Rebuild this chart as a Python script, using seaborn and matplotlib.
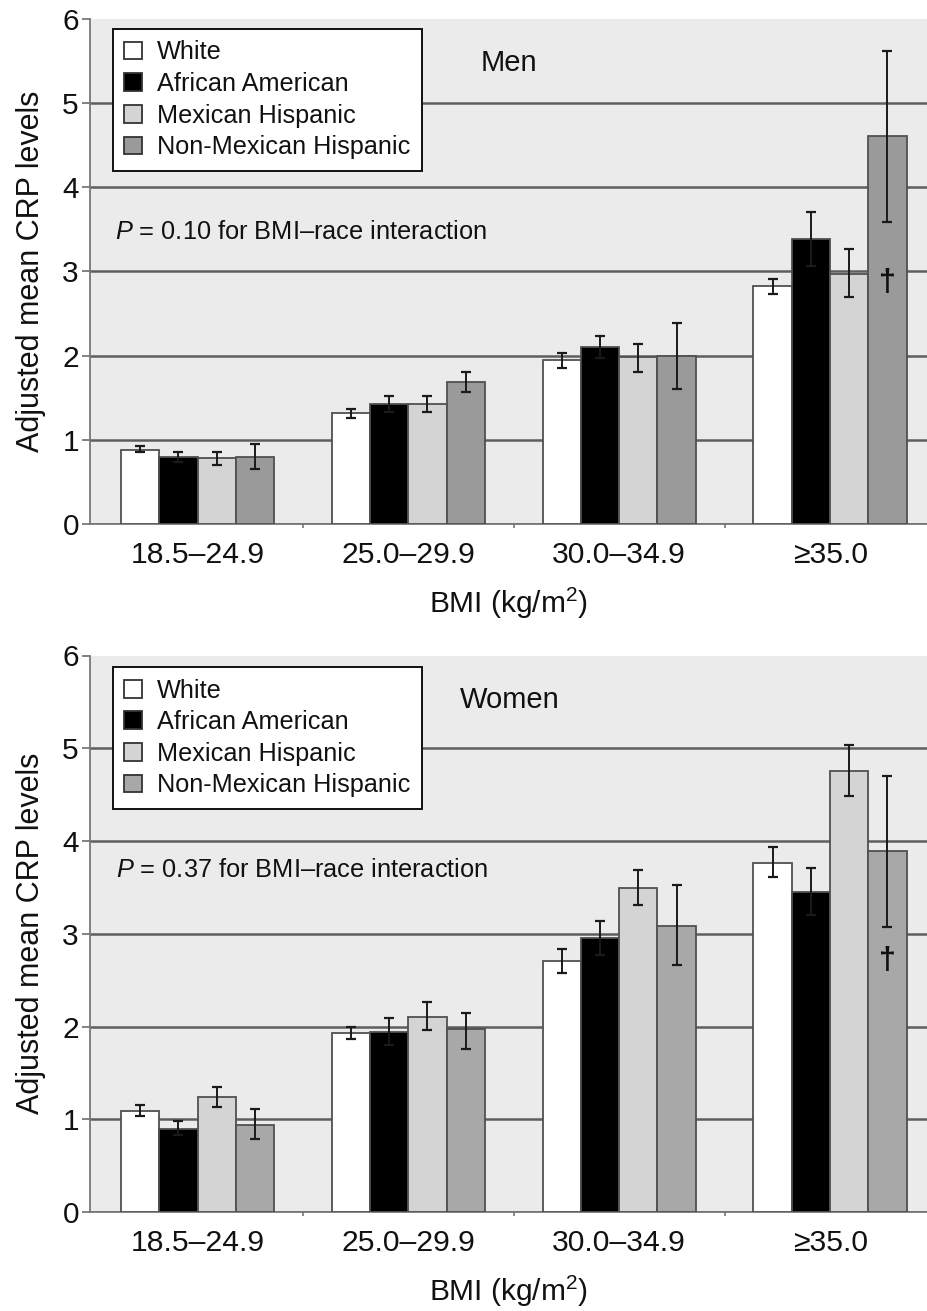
import numpy as np
import pandas as pd
import matplotlib
matplotlib.use("Agg")
import matplotlib.pyplot as plt
import seaborn as sns

# ---------------- data ----------------
bmi_cats = ["18.5\u201324.9", "25.0\u201329.9", "30.0\u201334.9", "\u226535.0"]
races = ["White", "African American", "Mexican Hispanic", "Non-Mexican Hispanic"]

# Men: means, lower and upper error-bar ends (per race, per BMI category)
men_mean = [[0.88, 1.32, 1.95, 2.82],
            [0.79, 1.42, 2.10, 3.38],
            [0.78, 1.42, 1.98, 2.97],
            [0.79, 1.68, 2.00, 4.60]]
men_lo = [[0.85, 1.26, 1.85, 2.73],
          [0.74, 1.33, 1.97, 3.06],
          [0.70, 1.33, 1.81, 2.70],
          [0.65, 1.57, 1.60, 3.59]]
men_hi = [[0.93, 1.36, 2.03, 2.91],
          [0.85, 1.52, 2.23, 3.70],
          [0.85, 1.52, 2.14, 3.26],
          [0.95, 1.80, 2.38, 5.61]]

# Women
women_mean = [[1.09, 1.93, 2.71, 3.76],
              [0.90, 1.94, 2.95, 3.45],
              [1.24, 2.10, 3.49, 4.76],
              [0.94, 1.97, 3.08, 3.89]]
women_lo = [[1.03, 1.86, 2.58, 3.61],
            [0.83, 1.80, 2.77, 3.20],
            [1.13, 1.96, 3.31, 4.49],
            [0.79, 1.76, 2.66, 3.07]]
women_hi = [[1.15, 1.99, 2.84, 3.93],
            [0.98, 2.09, 3.14, 3.71],
            [1.35, 2.26, 3.69, 5.04],
            [1.11, 2.15, 3.53, 4.70]]

men_p_text = "= 0.10 for BMI\u2013race interaction"
women_p_text = "= 0.37 for BMI\u2013race interaction"
y_ticks = [0, 1, 2, 3, 4, 5, 6]

# ---------------- style ----------------
sns.set_style("white")
plt.rcParams["font.family"] = ["Liberation Sans", "DejaVu Sans"]
plt.rcParams["mathtext.fontset"] = "custom"
plt.rcParams["mathtext.it"] = "Liberation Sans:italic"
plt.rcParams["mathtext.rm"] = "Liberation Sans"

fig = plt.figure(figsize=(9.27, 13.11), dpi=100)

W, H = 927, 1311
def axes_rect(left_px, top_px, right_px, bottom_px):
    return [left_px / W, 1 - bottom_px / H, (right_px - left_px) / W, (bottom_px - top_px) / H]

ax_top = fig.add_axes(axes_rect(90, 18.5, 927, 524))
ax_bot = fig.add_axes(axes_rect(90, 655.5, 927, 1212))

pal_men = ["#ffffff", "#000000", "#d4d4d4", "#9a9a9a"]
pal_women = ["#ffffff", "#000000", "#d4d4d4", "#a8a8a8"]


def make_df(mean):
    rows = []
    for r, race in enumerate(races):
        for c, cat in enumerate(bmi_cats):
            rows.append({"bmi": cat, "race": race, "value": mean[r][c]})
    return pd.DataFrame(rows)


def draw(ax, mean, lo, hi, palette, title, title_xy, p_text, p_xy, dagger_y):
    df = make_df(mean)
    ax.set_facecolor("#ebebeb")
    sns.barplot(data=df, x="bmi", y="value", hue="race", order=bmi_cats,
                hue_order=races, palette=palette, width=0.726,
                edgecolor="#505050", linewidth=1.3, errorbar=None,
                saturation=1, ax=ax, zorder=3)
    bar_conts = list(ax.containers)
    # error bars
    for r, cont in enumerate(bar_conts):
        xs = [p.get_x() + p.get_width() / 2 for p in cont.patches]
        m = np.array(mean[r])
        yerr = np.vstack([m - np.array(lo[r]), np.array(hi[r]) - m])
        ax.errorbar(xs, m, yerr=yerr, fmt="none", ecolor="#1a1a1a",
                    elinewidth=1.4, capsize=3.8, capthick=1.6, zorder=5)
    # dagger on Non-Mexican Hispanic, highest BMI category
    p = bar_conts[3].patches[3]
    ax.text(p.get_x() + p.get_width() / 2, dagger_y, "\u2020", ha="center",
            va="center", fontsize=22, fontweight="bold", color="#111111",
            zorder=6)

    ax.set_xlim(-0.51, 3.46)
    ax.set_ylim(0, 6)
    ax.set_yticks(y_ticks)
    ax.set_axisbelow(True)
    ax.yaxis.grid(True, color="#5e5e5e", linewidth=1.8)
    ax.get_ygridlines()[-1].set_visible(False)
    ax.xaxis.grid(False)

    for s in ["top", "right"]:
        ax.spines[s].set_visible(False)
    for s in ["left", "bottom"]:
        ax.spines[s].set_color("#777777")
        ax.spines[s].set_linewidth(1.3)

    ax.tick_params(axis="y", which="major", direction="out", length=6,
                   width=1.3, color="#777777", pad=2, labelsize=21.5,
                   labelcolor="#111111", left=True)
    ax.tick_params(axis="x", which="major", length=0, pad=12, labelsize=21.7,
                   labelcolor="#111111")
    ax.set_xticks([0.5, 1.5, 2.5], minor=True)
    ax.tick_params(axis="x", which="minor", direction="out", length=3,
                   width=1.2, color="#777777", bottom=True)

    ax.set_ylabel("Adjusted mean CRP levels", fontsize=22, color="#111111",
                  labelpad=12)
    ax.set_xlabel("BMI (kg/m$^{\\mathrm{2}}$)", fontsize=21.5, color="#111111",
                  labelpad=12)

    handles, labels = ax.get_legend_handles_labels()
    for h in handles:
        h.set_edgecolor("#333333")
        h.set_linewidth(1.3)
    leg = ax.legend(handles, labels, loc="upper left",
                    bbox_to_anchor=(0.0275, 0.979), borderaxespad=0,
                    fontsize=18.2, frameon=True, fancybox=False,
                    framealpha=1, handlelength=0.7, handleheight=0.7,
                    handletextpad=0.6, labelspacing=0.3, borderpad=0.45)
    leg.get_frame().set_edgecolor("#111111")
    leg.get_frame().set_linewidth(1.4)
    leg.get_frame().set_facecolor("white")
    leg.set_zorder(10)
    for t in leg.get_texts():
        t.set_color("#111111")

    ax.text(title_xy[0], title_xy[1], title, transform=ax.transAxes,
            ha="center", va="center", fontsize=21, color="#111111", zorder=7)
    ax.text(p_xy[0], p_xy[1], "$\\it{P}$ " + p_text, transform=ax.transAxes,
            ha="left", va="center", fontsize=18.3, color="#111111", zorder=7)


draw(ax_top, men_mean, men_lo, men_hi, pal_men, "Men", (0.5006, 0.911),
     men_p_text, (0.0299, 0.578), 2.86)
draw(ax_bot, women_mean, women_lo, women_hi, pal_women, "Women", (0.5018, 0.92),
     women_p_text, (0.0311, 0.6146), 2.71)

fig.savefig("out.png", dpi=100)
